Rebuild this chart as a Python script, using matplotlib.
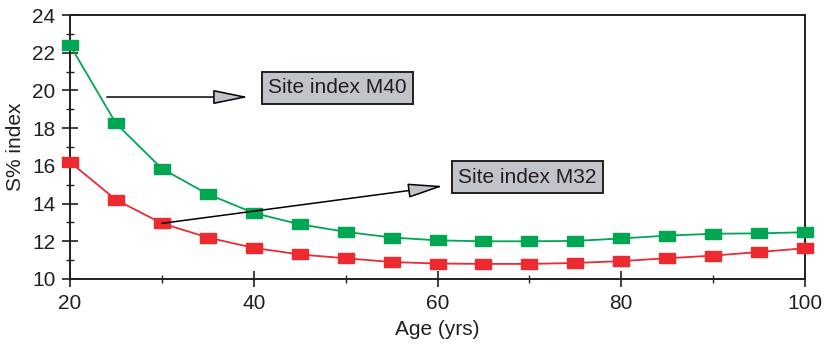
import matplotlib
matplotlib.use("Agg")
import matplotlib.pyplot as plt
from matplotlib.ticker import MultipleLocator

plt.rcParams['font.family'] = ['Liberation Sans', 'DejaVu Sans']

age = [20, 25, 30, 35, 40, 45, 50, 55, 60, 65, 70, 75, 80, 85, 90, 95, 100]
m40 = [22.4, 18.25, 15.85, 14.5, 13.5, 12.9, 12.5, 12.2, 12.05, 12.0, 12.0, 12.02, 12.15, 12.3, 12.4, 12.42, 12.48]
m32 = [16.2, 14.2, 12.95, 12.2, 11.65, 11.3, 11.1, 10.9, 10.82, 10.8, 10.8, 10.85, 10.95, 11.1, 11.24, 11.43, 11.63]

green = '#00a651'
red = '#ec2a30'
boxgray = '#c2c4cb'
ink = '#231f20'

fig = plt.figure(figsize=(8.24, 3.49), dpi=100)
ax = fig.add_axes([0.085, 0.2006, 0.892, 0.7564])

rect = [(-1, -0.58), (1, -0.58), (1, 0.58), (-1, 0.58), (-1, -0.58)]
ax.plot(age, m40, color=green, lw=1.3, marker=rect, ms=12, mfc=green, mec=green, zorder=3, clip_on=False)
ax.plot(age, m32, color=red, lw=1.3, marker=rect, ms=12, mfc=red, mec=red, zorder=3, clip_on=False)

ax.set_xlim(20, 100)
ax.set_ylim(10, 24)
ax.xaxis.set_major_locator(MultipleLocator(20))
ax.xaxis.set_minor_locator(MultipleLocator(10))
ax.yaxis.set_major_locator(MultipleLocator(2))
ax.yaxis.set_minor_locator(MultipleLocator(1))
ax.tick_params(which='major', direction='inout', length=11, width=1.2, labelsize=15, colors=ink, pad=5, top=False, right=False)
ax.tick_params(which='minor', direction='inout', length=6, width=1.0, colors=ink, top=False, right=False)
for s in ax.spines.values():
    s.set_linewidth(1.4)
    s.set_color(ink)

ax.set_xlabel('Age (yrs)', fontsize=15, color=ink, labelpad=5)
ax.set_ylabel('S% index', fontsize=15, color=ink, labelpad=5)

arrowprops = dict(arrowstyle='-|>,head_length=2.2,head_width=0.45', mutation_scale=10,
                  fc=boxgray, ec='black', lw=1.1, shrinkA=0, shrinkB=0)
ax.annotate('', xy=(39.4, 19.65), xytext=(24.0, 19.65), arrowprops=arrowprops, zorder=4)
ax.annotate('', xy=(60.6, 14.93), xytext=(30.0, 12.95), arrowprops=arrowprops, zorder=4)

bbox = dict(boxstyle='square,pad=0.3', fc=boxgray, ec=ink, lw=1.4)
ax.text(49.1, 20.13, 'Site index M40', fontsize=15, ha='center', va='center', color=ink, bbox=bbox, zorder=5)
ax.text(69.8, 15.4, 'Site index M32', fontsize=15, ha='center', va='center', color=ink, bbox=bbox, zorder=5)

fig.savefig('out.png', dpi=100)
